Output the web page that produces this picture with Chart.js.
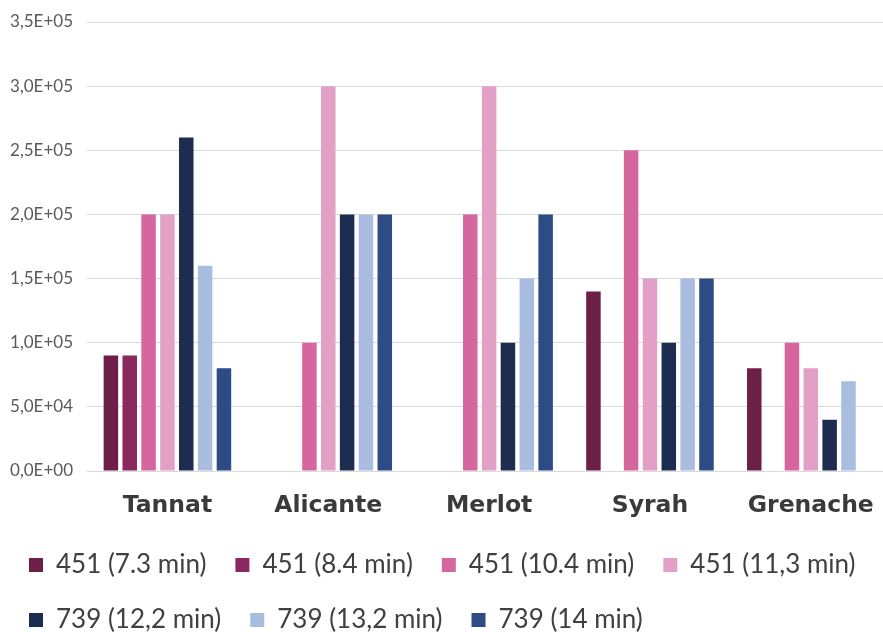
<!DOCTYPE html>
<html>
<head>
<meta charset="utf-8">
<script src="https://cdn.jsdelivr.net/npm/chart.js@4.4.1/dist/chart.umd.min.js"></script>
<style>
  html, body { margin: 0; padding: 0; background: #fff; overflow: hidden; }
  #wrap { width: 895px; height: 632px; }
</style>
</head>
<body>
<div id="wrap"><canvas id="myChart"></canvas></div>
<script>
const categories = ['Tannat', 'Alicante', 'Merlot', 'Syrah', 'Grenache'];
const seriesNames = ['451 (7.3 min)', '451 (8.4 min)', '451 (10.4 min)', '451 (11,3 min)',
  '739 (12,2 min)', '739 (13,2 min)', '739 (14 min)'];
const s451_73 = [90000, null, null, 140000, 80000];
const s451_84 = [90000, null, null, null, null];
const s451_104 = [200000, 100000, 200000, 250000, 100000];
const s451_113 = [200000, 300000, 300000, 150000, 80000];
const s739_122 = [260000, 200000, 100000, 100000, 40000];
const s739_132 = [160000, 200000, 150000, 150000, 70000];
const s739_14 = [80000, 200000, 200000, 150000, null];
const colors = ['#6e1f48', '#8c2860', '#d5679e', '#e3a0c6', '#1c2d50', '#a9bde0', '#2d4b85'];
const yTicks = [0, 50000, 100000, 150000, 200000, 250000, 300000, 350000];

const allSeries = [s451_73, s451_84, s451_104, s451_113, s739_122, s739_132, s739_14];

function sciLabel(v) {
  if (v === 0) return '0,0E+00';
  const exp = Math.floor(Math.log10(v));
  const mant = (v / Math.pow(10, exp)).toFixed(1).replace('.', ',');
  return mant + 'E+' + String(exp).padStart(2, '0');
}

// pull the legend a bit closer to the bottom edge
const legendShift = {
  id: 'legendShift',
  beforeInit(chart) {
    const fit = chart.legend.fit;
    chart.legend.fit = function () {
      fit.bind(chart.legend)();
      this.height -= 11;
    };
  }
};

document.addEventListener('DOMContentLoaded', () => {
  const ctx = document.getElementById('myChart').getContext('2d');

  new Chart(ctx, {
    type: 'bar',
    data: {
      labels: categories,
      datasets: allSeries.map((d, i) => ({
        label: seriesNames[i],
        data: d,
        backgroundColor: colors[i],
        borderWidth: 0,
        categoryPercentage: 0.82,
        barPercentage: 0.77
      }))
    },
    options: {
      responsive: true,
      maintainAspectRatio: false,
      animation: false,
      layout: {
        padding: { top: 22, right: 2, left: 0, bottom: 0 }
      },
      scales: {
        x: {
          grid: { display: false, drawTicks: false },
          border: { display: false },
          afterFit: (scale) => {
            scale.height = 52;
          },
          ticks: {
            color: '#3a3a3a',
            padding: 21,
            font: { family: 'DejaVu Sans', size: 23.5, weight: 'bold' }
          }
        },
        y: {
          min: 0,
          max: 350000,
          afterBuildTicks: (scale) => {
            scale.ticks = yTicks.map(v => ({ value: v }));
          },
          afterFit: (scale) => {
            scale.width = 87;
            scale.paddingTop = 0;
            scale.paddingBottom = 0;
          },
          border: { display: false },
          grid: {
            color: '#d9d9d9',
            drawTicks: false
          },
          ticks: {
            color: '#595959',
            padding: 14,
            font: { family: 'Lato', size: 17 },
            callback: (v) => sciLabel(v)
          }
        }
      },
      plugins: {
        legend: {
          position: 'bottom',
          align: 'start',
          labels: {
            color: '#404040',
            boxWidth: 14,
            boxHeight: 14,
            padding: 29,
            font: { family: 'Lato', size: 26 }
          }
        },
        tooltip: { enabled: false }
      }
    },
    plugins: [legendShift]
  });
});
</script>
</body>
</html>
